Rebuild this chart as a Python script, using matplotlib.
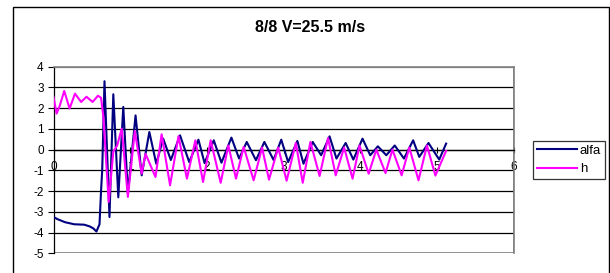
import matplotlib
matplotlib.use("Agg")
import matplotlib.pyplot as plt
from matplotlib.patches import Rectangle

# ---- data (key points / extrema) ----
alfa_t = [0.00, 0.05, 0.15, 0.27, 0.40, 0.47, 0.52, 0.56, 0.60, 0.62, 0.635, 0.665,
          0.73, 0.78, 0.845, 0.91, 0.97, 1.07, 1.15, 1.25, 1.34, 1.43, 1.53, 1.65,
          1.77, 1.89, 1.97, 2.09, 2.19, 2.32, 2.42, 2.52, 2.64, 2.75, 2.87, 2.97,
          3.06, 3.18, 3.26, 3.38, 3.49, 3.60, 3.69, 3.81, 3.91, 4.03, 4.13, 4.23,
          4.34, 4.45, 4.57, 4.69, 4.77, 4.89, 5.03, 5.12]
alfa_v = [-3.25, -3.35, -3.50, -3.60, -3.62, -3.70, -3.80, -3.95, -3.60, -2.00, -1.00, 3.30,
          -3.25, 2.67, -2.30, 2.06, -2.10, 1.65, -1.24, 0.85, -0.68, 0.53, -0.50, 0.69,
          -0.60, 0.48, -0.65, 0.45, -0.63, 0.58, -0.43, 0.37, -0.51, 0.37, -0.50, 0.48,
          -0.60, 0.42, -0.68, 0.37, -0.27, 0.64, -0.43, 0.32, -0.48, 0.53, -0.27, 0.16,
          -0.27, 0.20, -0.43, 0.45, -0.35, 0.32, -0.48, 0.29]

h_t = [0.00, 0.04, 0.08, 0.14, 0.21, 0.28, 0.36, 0.43, 0.51, 0.58, 0.62, 0.65,
       0.72, 0.78, 0.83, 0.89, 0.97, 1.06, 1.15, 1.20, 1.33, 1.41, 1.52, 1.63,
       1.74, 1.85, 1.95, 2.05, 2.18, 2.28, 2.38, 2.48, 2.61, 2.72, 2.81, 2.93,
       3.04, 3.16, 3.25, 3.35, 3.47, 3.58, 3.68, 3.79, 3.90, 3.99, 4.11, 4.21,
       4.33, 4.42, 4.54, 4.64, 4.76, 4.87, 4.98, 5.12]
h_v = [2.54, 1.74, 2.10, 2.83, 1.98, 2.70, 2.30, 2.55, 2.30, 2.60, 2.50, 1.60,
       -2.52, -0.10, 0.20, 1.01, -2.28, 0.90, -1.16, -0.20, -1.32, 0.74, -1.72, 0.65,
       -1.40, 0.45, -1.56, 0.45, -1.60, 0.20, -1.40, 0.13, -1.48, 0.10, -1.45, 0.10,
       -1.50, 0.32, -1.60, 0.37, -1.27, 0.56, -1.24, 0.10, -1.40, 0.20, -1.16, 0.00,
       -1.13, 0.00, -1.24, 0.10, -1.48, 0.20, -1.25, -0.06]

x_ticks = [0, 1, 2, 3, 4, 5, 6]
y_ticks = [-5, -4, -3, -2, -1, 0, 1, 2, 3, 4]
title = "8/8 V=25.5 m/s"
series_names = ["alfa", "h"]

plt.rcParams['font.family'] = ['Liberation Sans', 'DejaVu Sans']

W, H = 610, 273
fig = plt.figure(figsize=(W / 100, H / 100), dpi=100)
fig.patch.set_facecolor('white')

# outer chart frame
fig.patches.append(Rectangle((12.9 / W, -0.05), (609 - 12.9) / W, 1 - 7.3 / H + 0.05,
                             transform=fig.transFigure, fill=False,
                             edgecolor='black', linewidth=1.0))

ax = fig.add_axes([53.5 / W, 1 - 253.3 / H, (513.6 - 53.5) / W, (253.3 - 66.7) / H])
ax.set_xlim(0, 6)
ax.set_ylim(-5, 4)

for y in y_ticks:
    ax.axhline(y, color='black' if -5 < y < 4 else '#808080', linewidth=0.9, zorder=1)

ax.plot(alfa_t, alfa_v, color='#000080', linewidth=1.5, label=series_names[0], zorder=3)
ax.plot(h_t, h_v, color='#FF00FF', linewidth=1.5, label=series_names[1], zorder=3)

for s in ['top', 'right']:
    ax.spines[s].set_color('#808080')
    ax.spines[s].set_linewidth(1.2)
ax.spines['left'].set_color('black')
ax.spines['left'].set_linewidth(0.9)
ax.spines['bottom'].set_position(('data', 0))
ax.spines['bottom'].set_color('black')
ax.spines['bottom'].set_linewidth(0.9)
ax.add_patch(Rectangle((0, 0), 1, 1, transform=ax.transAxes, fill=False,
                       edgecolor='#808080', linewidth=1.2, zorder=0.5))

ax.set_xticks(x_ticks)
ax.set_xticklabels([str(v) for v in x_ticks])
ax.set_yticks(y_ticks)
ax.set_yticklabels([str(v) for v in y_ticks])
ax.tick_params(axis='x', direction='inout', length=5, width=0.8, pad=6, labelsize=8.5)
ax.tick_params(axis='y', direction='out', length=4, width=0.8, pad=3, labelsize=8.5)

fig.text(310 / W, 1 - 27 / H, title, ha='center', va='center',
         fontsize=11.5, fontweight='bold')

leg = ax.legend(loc='center left', bbox_to_anchor=(533 / W, 1 - 160 / H),
                bbox_transform=fig.transFigure, fontsize=9.5, frameon=True,
                fancybox=False, handlelength=3.0, handletextpad=0.25,
                borderpad=0.3, labelspacing=0.45, borderaxespad=0)
leg.get_frame().set_edgecolor('black')
leg.get_frame().set_linewidth(0.9)

fig.savefig('out.png', dpi=100, facecolor='white')
